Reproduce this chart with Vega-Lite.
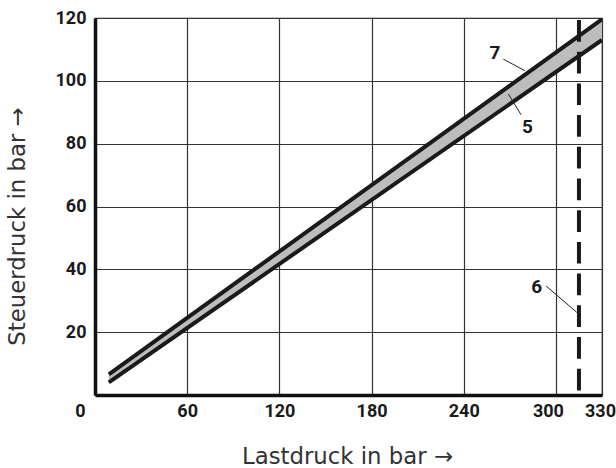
{
  "$schema": "https://vega.github.io/schema/vega-lite/v6.json",
  "width": 507,
  "height": 377,
  "autosize": {"type": "none"},
  "padding": {"left": 95, "top": 18, "right": 14, "bottom": 73},
  "background": "white",
  "config": {
    "view": {"stroke": "#222", "strokeWidth": 1.2},
    "axis": {
      "domainColor": "#111",
      "domainWidth": 3.5,
      "ticks": false,
      "gridColor": "#333",
      "gridWidth": 1.2,
      "labelFont": "Roboto, sans-serif",
      "labelFontWeight": "bold",
      "labelFontSize": 18,
      "labelColor": "#1a1a1a",
      "labelOverlap": false,
      "labelFlush": false,
      "titleFont": "DejaVu Sans, sans-serif",
      "titleFontWeight": "normal",
      "titleFontSize": 22.8,
      "titleColor": "#333"
    }
  },
  "datasets": {
    "lines": [
      {"series": "upper", "x": 9, "y": 6.6},
      {"series": "upper", "x": 330, "y": 119.6},
      {"series": "lower", "x": 9, "y": 4.0},
      {"series": "lower", "x": 330, "y": 113.0}
    ],
    "band": [
      {"x": 9, "lo": 4.0, "hi": 6.6},
      {"x": 330, "lo": 113.0, "hi": 119.6}
    ],
    "limit": [{"x": 315}],
    "leaders": [
      {"x": 265.8, "y": 106.9, "x2": 279.9, "y2": 103.2},
      {"x": 269.1, "y": 95.8, "x2": 277.3, "y2": 89.2},
      {"x": 293.6, "y": 34.7, "x2": 313.6, "y2": 26.3}
    ],
    "labels": [
      {"x": 260.4, "y": 108.9, "text": "7"},
      {"x": 281.4, "y": 85.4, "text": "5"},
      {"x": 287.5, "y": 34.5, "text": "6"}
    ]
  },
  "layer": [
    {
      "data": {"name": "band"},
      "mark": {"type": "area", "color": "#bdbdbd", "clip": true},
      "encoding": {
        "x": {
          "field": "x", "type": "quantitative",
          "scale": {"domain": [0, 330], "nice": false, "zero": false},
          "axis": {
            "values": [0, 60, 120, 180, 240, 300, 330],
            "grid": true,
            "labelPadding": 7,
            "labelOffset": {"expr": "datum.value == 0 ? -15 : datum.value == 300 ? -8 : datum.value == 330 ? -2 : 0"},
            "title": "Lastdruck in bar →",
            "titleX": 252,
            "titleY": 61,
            "titleAlign": "center",
            "titleBaseline": "middle"
          }
        },
        "y": {
          "field": "lo", "type": "quantitative",
          "scale": {"domain": [0, 120], "nice": false, "zero": false},
          "axis": {
            "values": [20, 40, 60, 80, 100, 120],
            "grid": true,
            "labelPadding": 9,
            "title": "Steuerdruck in bar →",
            "titleX": -78,
            "titleY": 208,
            "titleAngle": -90,
            "titleAlign": "center",
            "titleBaseline": "middle"
          }
        },
        "y2": {"field": "hi"}
      }
    },
    {
      "data": {"name": "lines"},
      "mark": {"type": "line", "color": "#1a1a1a", "strokeWidth": 4, "strokeCap": "butt", "clip": true},
      "encoding": {
        "x": {"field": "x", "type": "quantitative"},
        "y": {"field": "y", "type": "quantitative"},
        "detail": {"field": "series"}
      }
    },
    {
      "data": {"name": "limit"},
      "mark": {"type": "rule", "color": "#1a1a1a", "strokeWidth": 4, "strokeDash": [21.7, 10], "strokeDashOffset": 29.7},
      "encoding": {
        "x": {"field": "x", "type": "quantitative"}
      }
    },
    {
      "data": {"name": "leaders"},
      "mark": {"type": "rule", "color": "#222", "strokeWidth": 1},
      "encoding": {
        "x": {"field": "x", "type": "quantitative"},
        "y": {"field": "y", "type": "quantitative"},
        "x2": {"field": "x2"},
        "y2": {"field": "y2"}
      }
    },
    {
      "data": {"name": "labels"},
      "mark": {"type": "text", "font": "Roboto, sans-serif", "fontWeight": "bold", "fontSize": 19, "color": "#1a1a1a", "align": "center", "baseline": "middle"},
      "encoding": {
        "x": {"field": "x", "type": "quantitative"},
        "y": {"field": "y", "type": "quantitative"},
        "text": {"field": "text"}
      }
    }
  ]
}
